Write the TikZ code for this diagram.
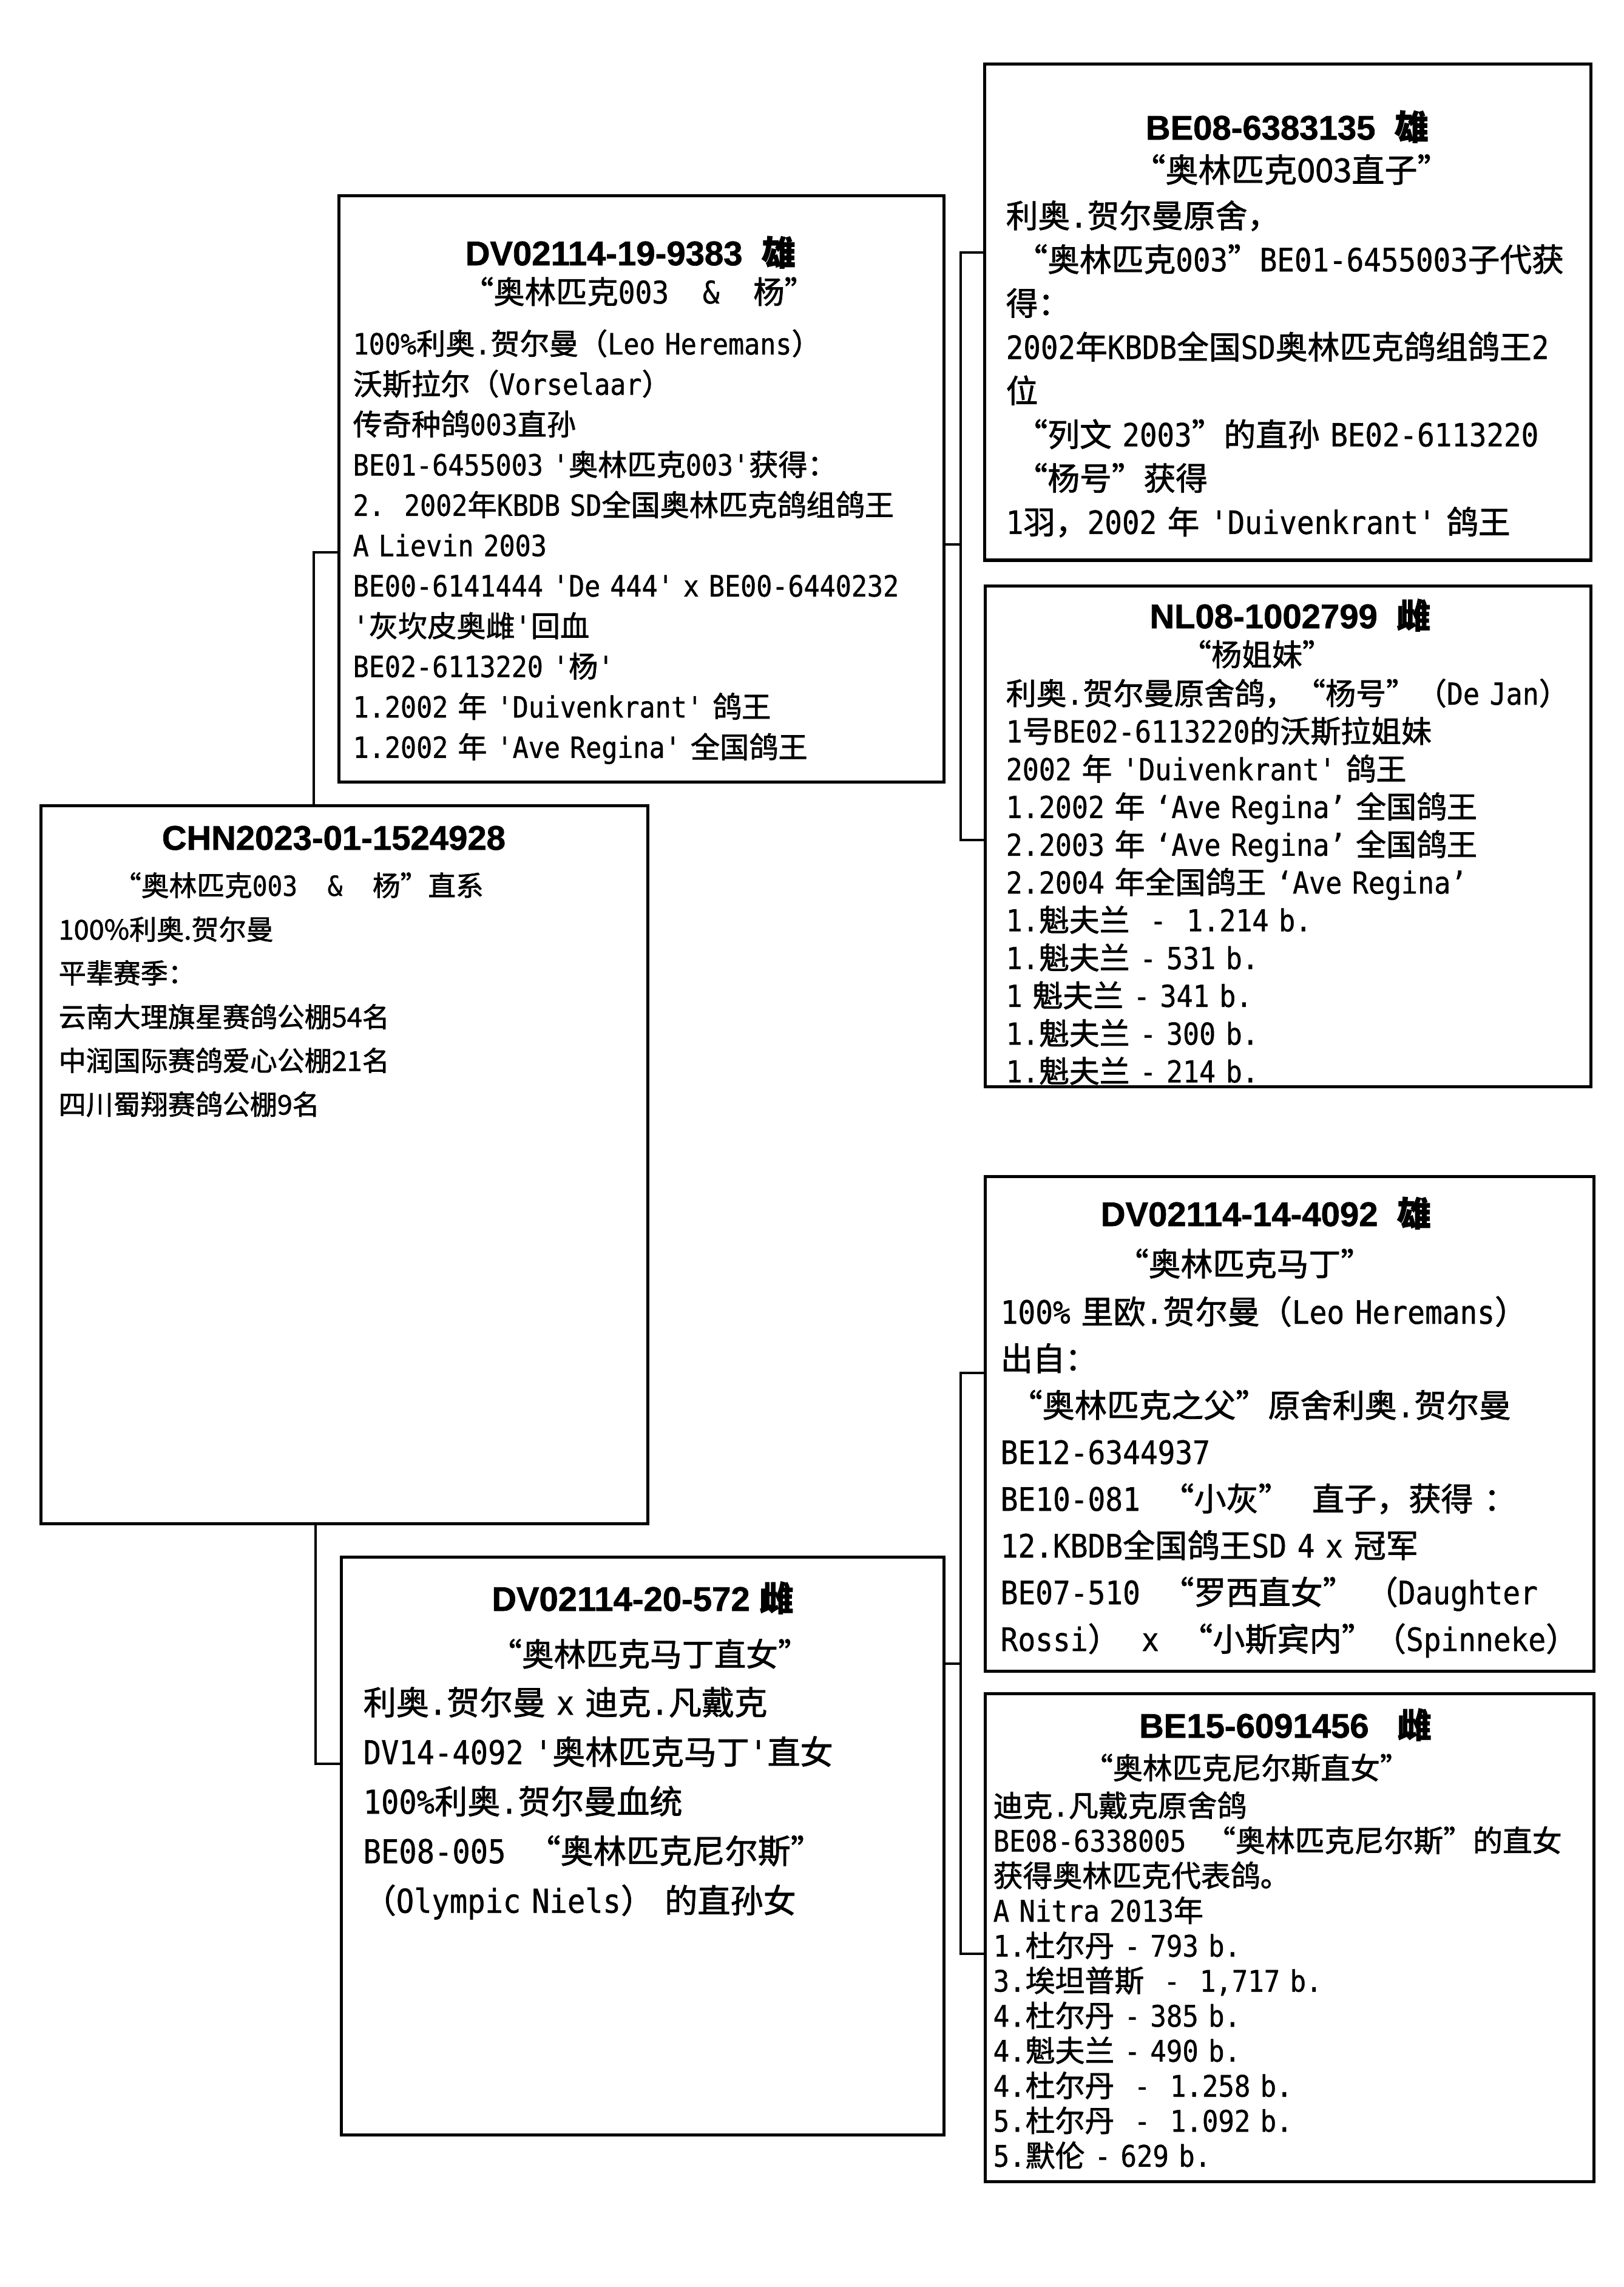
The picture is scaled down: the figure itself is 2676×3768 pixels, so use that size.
\documentclass[tikz,border=0pt]{standalone}
\usepackage{fontspec}
\setmainfont{Liberation Sans}[BoldFeatures={FakeBold=1.2}]
\newfontfamily\cjkfont{Noto Sans CJK SC}[FakeBold=1.5]
\newfontfamily\monofont{DejaVu Sans Mono}[FakeStretch=0.9,FakeBold=0.8,Ligatures=TeXOff]

% CJK characters switch font on their own
\XeTeXinterchartokenstate=1
\newXeTeXintercharclass\cjkcls
\newcount\cjkn
\newcommand\cjkrange[2]{\cjkn=#1\relax
  \loop\XeTeXcharclass\cjkn=\cjkcls\relax
  \ifnum\cjkn<#2\relax\advance\cjkn by 1\repeat}
\cjkrange{"3000}{"303F}
\cjkrange{"4E00}{"9FFF}
\cjkrange{"FF00}{"FFEF}
\XeTeXcharclass"201C=\cjkcls
\XeTeXcharclass"201D=\cjkcls
\let\curcjk\cjkfont
\let\curlatin\rmfamily
\def\cjksw{\curcjk}
\def\latinsw{\curlatin}
\XeTeXinterchartoks 0 \cjkcls={\cjksw}
\XeTeXinterchartoks 4095 \cjkcls={\cjksw}
\XeTeXinterchartoks \cjkcls 0={\latinsw}
\XeTeXinterchartoks \cjkcls 4095={\latinsw}

\newcommand\setbody[2]{\fontsize{#1}{#2}\selectfont\let\curlatin\monofont\let\curcjk\cjkfont\curlatin}
\newcommand\setplain[2]{\fontsize{#1}{#2}\selectfont\let\curlatin\cjkfont\let\curcjk\cjkfont\curlatin}
\newcommand\settitle{\fontsize{16}{18}\selectfont\bfseries\let\curlatin\rmfamily\let\curcjk\cjkfont\curlatin}

\begin{document}
\begin{tikzpicture}[x=0.01cm, y=-0.01cm,
  frame/.style={draw, line width=1.5pt, inner sep=0pt, anchor=north west},
  hd/.style={anchor=base, inner sep=0pt, font=\settitle},
  nk/.style={anchor=base, inner sep=0pt},
  bd/.style={anchor=base west, inner sep=0pt, align=left, text width=9.6cm},
  ln/.style={line width=1pt}
]
\path[use as bounding box, fill=white] (0,0) rectangle (2676,3768);
% the bird (left)
\node[frame, minimum width=9.99cm, minimum height=11.82cm] (chn) at (65,1325) {};
\node[hd] (chn-hd) at (550,1400) {CHN2023-01-1524928};
\node[nk, font=\setbody{13}{13}] (chn-nk) at (492,1476) {“奥林匹克003\ \ \&\ \ 杨”直系};
\node[bd, font=\setplain{12.8}{20.5}] (chn-bd) at (96,1548) {100\%利奥.贺尔曼\\
平辈赛季：\\
云南大理旗星赛鸽公棚54名\\
中润国际赛鸽爱心公棚21名\\
四川蜀翔赛鸽公棚9名};
% sire (upper middle)
\node[frame, minimum width=9.96cm, minimum height=9.65cm] (sire) at (556,320) {};
\node[hd] (sire-hd) at (1039,437) {DV02114-19-9383\ \ 雄};
\node[nk, font=\setbody{14.6}{14.6}] (sire-nk) at (1053,500) {“奥林匹克003\ \ \&\ \ 杨”};
\node[bd, font=\setbody{13.7}{18.9}] (sire-bd) at (581,584) {100\%利奥.贺尔曼（Leo Heremans）\\
沃斯拉尔（Vorselaar）\\
传奇种鸽003直孙\\
BE01-6455003 '奥林匹克003'获得：\\
2.\ \ 2002年KBDB SD全国奥林匹克鸽组鸽王\\
A Lievin 2003\\
BE00-6141444 'De 444' x BE00-6440232\\
'灰坎皮奥雌'回血\\
BE02-6113220 '杨'\\
1.2002 年 'Duivenkrant' 鸽王\\
1.2002 年 'Ave Regina' 全国鸽王};
% dam (lower middle)
\node[frame, minimum width=9.92cm, minimum height=9.51cm] (dam) at (560,2563) {};
\node[hd] (dam-hd) at (1059,2654) {DV02114-20-572 雌};
\node[nk, font=\setplain{15}{15}] (dam-nk) at (1071,2745) {“奥林匹克马丁直女”};
\node[bd, font=\setbody{15.4}{23.2}] (dam-bd) at (598,2825) {利奥.贺尔曼 x 迪克.凡戴克\\
DV14-4092 '奥林匹克马丁'直女\\
100\%利奥.贺尔曼血统\\
BE08-005\ \ “奥林匹克尼尔斯”\\
（Olympic Niels）\ 的直孙女};
% sire's parents (top right)
\node[frame, minimum width=9.98cm, minimum height=8.17cm] (ssire) at (1620,103) {};
\node[hd] (ssire-hd) at (2121,230) {BE08-6383135\ \ 雄};
\node[nk, font=\setplain{15.4}{15.4}] (ssire-nk) at (2128,300) {“奥林匹克003直子”};
\node[bd, font=\setbody{15}{20.5}] (ssire-bd) at (1657,375) {利奥.贺尔曼原舍，\\
\hspace*{0.3em}“奥林匹克003”BE01-6455003子代获\\
得：\\
2002年KBDB全国SD奥林匹克鸽组鸽王2\\
位\\
\hspace*{0.3em}“列文 2003”的直孙 BE02-6113220\\
\hspace*{0.3em}“杨号”获得\\
1羽，2002 年 'Duivenkrant' 鸽王};
\node[frame, minimum width=9.97cm, minimum height=8.24cm] (sdam) at (1621,963) {};
\node[hd] (sdam-hd) at (2126,1035) {NL08-1002799\ \ 雌};
\node[nk, font=\setplain{14.2}{14.2}] (sdam-nk) at (2071,1097) {“杨姐妹”};
\node[bd, font=\setbody{14.2}{17.7}] (sdam-bd) at (1657,1161) {利奥.贺尔曼原舍鸽，“杨号”（De Jan）\\
1号BE02-6113220的沃斯拉姐妹\\
2002 年 'Duivenkrant' 鸽王\\
1.2002 年 ‘Ave Regina’ 全国鸽王\\
2.2003 年 ‘Ave Regina’ 全国鸽王\\
2.2004 年全国鸽王 ‘Ave Regina’\\
1.魁夫兰\ \ -\ \ 1.214 b.\\
1.魁夫兰 - 531 b.\\
1 魁夫兰 - 341 b.\\
1.魁夫兰 - 300 b.\\
1.魁夫兰 - 214 b.};
% dam's parents (bottom right)
\node[frame, minimum width=10.02cm, minimum height=8.14cm] (dsire) at (1621,1936) {};
\node[hd] (dsire-hd) at (2086,2020) {DV02114-14-4092\ \ 雄};
\node[nk, font=\setplain{15}{15}] (dsire-nk) at (2051,2102) {“奥林匹克马丁”};
\node[bd, font=\setbody{15.1}{21.9}] (dsire-bd) at (1648,2181) {100\% 里欧.贺尔曼（Leo Heremans）\\
出自：\\
\hspace*{0.3em}“奥林匹克之父”原舍利奥.贺尔曼\\
BE12-6344937\\
BE10-081\ \ “小灰”\ \ 直子，获得 ：\\
12.KBDB全国鸽王SD 4 x 冠军\\
BE07-510\ \ “罗西直女” （Daughter\\
Rossi）\ \ x\ \ “小斯宾内”（Spinneke）};
\node[frame, minimum width=10.02cm, minimum height=8.03cm] (ddam) at (1621,2788) {};
\node[hd] (ddam-hd) at (2118,2863) {BE15-6091456\ \ \ 雌};
\node[nk, font=\setplain{13.9}{13.9}] (ddam-nk) at (2054,2931) {“奥林匹克尼尔斯直女”};
\node[bd, font=\setbody{13.9}{16.4}] (ddam-bd) at (1636,2993) {迪克.凡戴克原舍鸽\\
BE08-6338005\ \ “奥林匹克尼尔斯”的直女\\
获得奥林匹克代表鸽。\\
A Nitra 2013年\\
1.杜尔丹 - 793 b.\\
3.埃坦普斯\ \ -\ \ 1,717 b.\\
4.杜尔丹 - 385 b.\\
4.魁夫兰 - 490 b.\\
4.杜尔丹\ \ -\ \ 1.258 b.\\
5.杜尔丹\ \ -\ \ 1.092 b.\\
5.默伦 - 629 b.};
% junctions
\coordinate (chn-a) at (517,910);
\coordinate (chn-b) at (520,2906);
\coordinate (sire-m) at (1583,897);
\coordinate (sire-a) at (1583,416);
\coordinate (sire-b) at (1583,1384);
\coordinate (dam-m) at (1583,2741);
\coordinate (dam-a) at (1583,2262);
\coordinate (dam-b) at (1583,3219);
\draw[ln] (chn-a |- chn.north) -- (chn-a) -- (chn-a -| sire.west);
\draw[ln] (chn-b |- chn.south) -- (chn-b) -- (chn-b -| dam.west);
\foreach \p/\a/\b in {sire/ssire/sdam,dam/dsire/ddam} {\draw[ln] (\p-m -| \p.east) -- (\p-m); \draw[ln] (\p-a -| \a.west) -- (\p-a) -- (\p-b) -- (\p-b -| \b.west);}
\end{tikzpicture}
\end{document}
